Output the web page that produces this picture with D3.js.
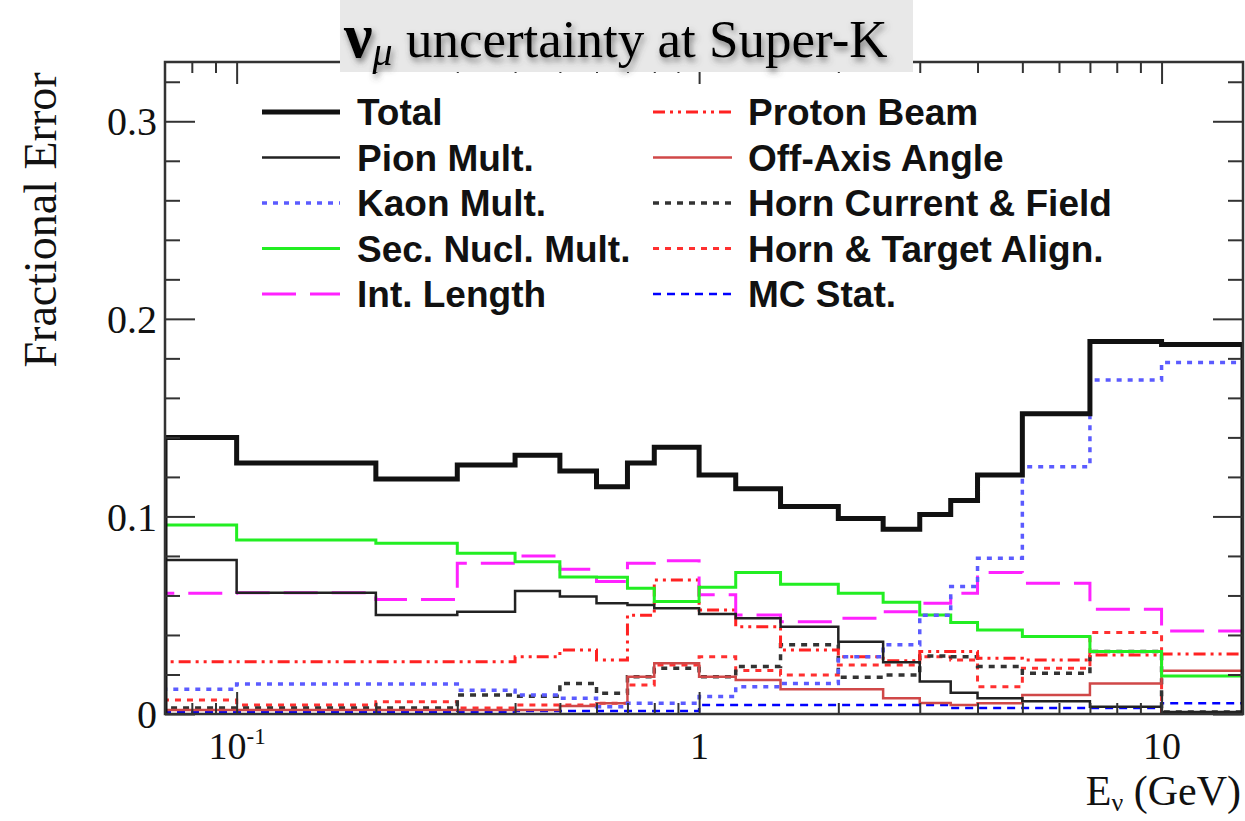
<!DOCTYPE html>
<html>
<head>
<meta charset="utf-8">
<script src="https://cdn.jsdelivr.net/npm/d3@7"></script>
<style>
  html, body { margin: 0; padding: 0; background: #ffffff; }
  svg { display: block; }
</style>
</head>
<body>
<svg id="chart" width="1245" height="821"></svg>
<script>
// Energy bin edges (GeV); the first bin starts at 0 and is clipped at the axis minimum
const binEdges = [0, 0.1, 0.2, 0.3, 0.4, 0.5, 0.6, 0.7, 0.8, 1.0, 1.2, 1.5, 2.0, 2.5, 3.0, 3.5, 4.0, 5.0, 7.0, 10.0, 30.0];

// Fractional error per bin for each source
const totalErr      = [0.140, 0.127, 0.119, 0.126, 0.131, 0.123, 0.115, 0.127, 0.135, 0.121, 0.114, 0.105, 0.099, 0.0935, 0.101, 0.108, 0.121, 0.152, 0.1885, 0.187];
const pionMult      = [0.078, 0.0614, 0.0501, 0.0518, 0.0623, 0.0595, 0.056, 0.0552, 0.0535, 0.0506, 0.0484, 0.0442, 0.0366, 0.0262, 0.0164, 0.0108, 0.008, 0.0065, 0.0037, 0.001];
const kaonMult      = [0.0125, 0.0152, 0.0152, 0.012, 0.0096, 0.008, 0.0037, 0.0055, 0.0055, 0.0088, 0.0138, 0.0155, 0.029, 0.035, 0.050, 0.0645, 0.0788, 0.1252, 0.169, 0.1779];
const secNuclMult   = [0.0957, 0.0881, 0.0864, 0.0814, 0.0771, 0.0693, 0.0692, 0.0636, 0.0569, 0.0641, 0.0716, 0.0657, 0.0611, 0.0566, 0.0501, 0.0463, 0.0425, 0.0392, 0.0316, 0.0192];
const intLength     = [0.0611, 0.0614, 0.058, 0.0763, 0.080, 0.0733, 0.067, 0.0763, 0.0776, 0.0603, 0.0501, 0.0467, 0.0484, 0.0518, 0.056, 0.0611, 0.0716, 0.0662, 0.053, 0.042];
const protonBeam    = [0.0265, 0.0265, 0.0265, 0.0265, 0.029, 0.0324, 0.0273, 0.050, 0.0678, 0.0527, 0.0442, 0.0324, 0.029, 0.027, 0.0316, 0.0316, 0.0282, 0.0273, 0.0299, 0.0304];
const offAxisAngle  = [0.002, 0.002, 0.002, 0.002, 0.002, 0.004, 0.0055, 0.0189, 0.0257, 0.0189, 0.0172, 0.0125, 0.0125, 0.008, 0.0056, 0.0046, 0.0054, 0.0096, 0.0155, 0.0219];
const hornCurrent   = [0.003, 0.003, 0.003, 0.0096, 0.009, 0.0155, 0.0105, 0.0189, 0.0231, 0.0189, 0.024, 0.035, 0.0186, 0.0197, 0.0294, 0.029, 0.024, 0.0206, 0.0316, 0.001];
const hornTarget    = [0.0071, 0.0046, 0.0062, 0.003, 0.0046, 0.0046, 0.0055, 0.0147, 0.0248, 0.029, 0.022, 0.0197, 0.0248, 0.0248, 0.029, 0.0273, 0.0138, 0.0231, 0.0412, 0.0005];
const mcStat        = [0.001, 0.001, 0.001, 0.0012, 0.0015, 0.0015, 0.0015, 0.0015, 0.0015, 0.0045, 0.0045, 0.0045, 0.0045, 0.0045, 0.0045, 0.003, 0.003, 0.003, 0.003, 0.0055];

// Legend labels (left column, then right column)
const legendLeft  = ["Total", "Pion Mult.", "Kaon Mult.", "Sec. Nucl. Mult.", "Int. Length"];
const legendRight = ["Proton Beam", "Off-Axis Angle", "Horn Current & Field", "Horn & Target Align.", "MC Stat."];

// Axis ticks
const xMajorTicks = [0.1, 1, 10];
const xMajorBase  = ["10", "1", "10"];
const xMajorExp   = ["-1", "", ""];
const xMinorTicks = [0.08, 0.09, 0.2, 0.3, 0.4, 0.5, 0.6, 0.7, 0.8, 0.9, 2, 3, 4, 5, 6, 7, 8, 9];
const yMajorTicks = [0, 0.1, 0.2, 0.3];
const yMajorLabels = ["0", "0.1", "0.2", "0.3"];
const yMinorTicks = [0.02, 0.04, 0.06, 0.08, 0.12, 0.14, 0.16, 0.18, 0.22, 0.24, 0.26, 0.28, 0.32];

// Line styles, keyed by legend label
const styles = {
  "Total":                { data: totalErr,     color: "#111111", width: 5,   dash: null },
  "Pion Mult.":           { data: pionMult,     color: "#222222", width: 2.5, dash: null },
  "Kaon Mult.":           { data: kaonMult,     color: "#5b5bff", width: 3.5, dash: "5,6" },
  "Sec. Nucl. Mult.":     { data: secNuclMult,  color: "#22ee22", width: 3,   dash: null },
  "Int. Length":          { data: intLength,    color: "#ff22ff", width: 3,   dash: "34,14" },
  "Proton Beam":          { data: protonBeam,   color: "#ff2222", width: 3,   dash: "12,5,3,5,3,5" },
  "Off-Axis Angle":       { data: offAxisAngle, color: "#d04848", width: 2.5, dash: null },
  "Horn Current & Field": { data: hornCurrent,  color: "#333333", width: 3.5, dash: "6,6" },
  "Horn & Target Align.": { data: hornTarget,   color: "#ff3030", width: 3,   dash: "6,6" },
  "MC Stat.":             { data: mcStat,       color: "#0000ff", width: 2.5, dash: "8,6" }
};
const drawOrder = ["MC Stat.", "Horn & Target Align.", "Horn Current & Field", "Off-Axis Angle", "Proton Beam",
                   "Int. Length", "Sec. Nucl. Mult.", "Kaon Mult.", "Pion Mult.", "Total"];

const svg = d3.select("#chart");
const frame = { left: 165, right: 1243, top: 62, bottom: 714 };

const x = d3.scaleLog().domain([0.07, 15]).range([frame.left, frame.right]).clamp(true);
const y = d3.scaleLinear().domain([0, 0.33]).range([frame.bottom, frame.top]);

svg.append("rect").attr("width", 1245).attr("height", 821).attr("fill", "#ffffff");

svg.append("defs").append("clipPath").attr("id", "plotClip")
  .append("rect")
  .attr("x", frame.left).attr("y", frame.top)
  .attr("width", frame.right - frame.left).attr("height", frame.bottom - frame.top);

// Histogram outline: step path that starts and ends on the zero line
function histPath(values) {
  const pts = [[x(Math.max(binEdges[0], x.domain()[0])), y(0)]];
  values.forEach((v, i) => {
    const x0 = x(Math.max(binEdges[i], x.domain()[0]));
    const x1 = x(Math.min(binEdges[i + 1], x.domain()[1]));
    pts.push([x0, y(v)], [x1, y(v)]);
  });
  pts.push([x(Math.min(binEdges[binEdges.length - 1], x.domain()[1])), y(0)]);
  return d3.line()(pts);
}

const gHist = svg.append("g").attr("clip-path", "url(#plotClip)");
drawOrder.forEach(name => {
  const s = styles[name];
  gHist.append("path")
    .attr("d", histPath(s.data))
    .attr("fill", "none")
    .attr("stroke", s.color)
    .attr("stroke-width", s.width)
    .attr("stroke-dasharray", s.dash)
    .attr("stroke-linejoin", "miter");
});

// Axes with inward ticks on all four sides
function styleAxis(g) {
  g.select(".domain").remove();
  g.selectAll("line").attr("stroke", "#333").attr("stroke-width", 2);
}
svg.append("g").attr("transform", `translate(0,${frame.bottom})`)
  .call(d3.axisBottom(x).tickValues(xMinorTicks).tickSize(-11).tickFormat(""))
  .call(styleAxis);
const xMajorAxis = svg.append("g").attr("transform", `translate(0,${frame.bottom})`)
  .call(d3.axisBottom(x).tickValues(xMajorTicks).tickSize(-22).tickFormat(""))
  .call(styleAxis);
svg.append("g").attr("transform", `translate(0,${frame.top})`)
  .call(d3.axisTop(x).tickValues(xMinorTicks).tickSize(-11).tickFormat(""))
  .call(styleAxis);
svg.append("g").attr("transform", `translate(0,${frame.top})`)
  .call(d3.axisTop(x).tickValues(xMajorTicks).tickSize(-22).tickFormat(""))
  .call(styleAxis);
svg.append("g").attr("transform", `translate(${frame.left},0)`)
  .call(d3.axisLeft(y).tickValues(yMinorTicks).tickSize(-15).tickFormat(""))
  .call(styleAxis);
const yMajorAxis = svg.append("g").attr("transform", `translate(${frame.left},0)`)
  .call(d3.axisLeft(y).tickValues(yMajorTicks).tickSize(-30).tickPadding(8)
        .tickFormat((d, i) => yMajorLabels[i]))
  .call(styleAxis);
svg.append("g").attr("transform", `translate(${frame.right},0)`)
  .call(d3.axisRight(y).tickValues(yMinorTicks).tickSize(-15).tickFormat(""))
  .call(styleAxis);
svg.append("g").attr("transform", `translate(${frame.right},0)`)
  .call(d3.axisRight(y).tickValues(yMajorTicks).tickSize(-30).tickFormat(""))
  .call(styleAxis);

yMajorAxis.selectAll("text")
  .attr("font-family", "'Liberation Serif', 'Times New Roman', serif")
  .attr("font-size", 40)
  .attr("fill", "#111")
  .attr("dy", "0.34em");

// x major labels with exponent superscripts
xMajorAxis.selectAll(".tick").each(function (d, i) {
  const t = d3.select(this).append("text")
    .attr("y", 45)
    .attr("text-anchor", "middle")
    .attr("font-family", "'Liberation Serif', 'Times New Roman', serif")
    .attr("font-size", 38)
    .attr("fill", "#111");
  t.append("tspan").text(xMajorBase[i]);
  if (xMajorExp[i]) {
    t.append("tspan").attr("font-size", 23).attr("dy", -15).text(xMajorExp[i]);
  }
});

// Frame
svg.append("rect")
  .attr("x", frame.left).attr("y", frame.top)
  .attr("width", frame.right - frame.left).attr("height", frame.bottom - frame.top)
  .attr("fill", "none").attr("stroke", "#333").attr("stroke-width", 2.5);

// Axis titles
svg.append("text")
  .attr("transform", "translate(56,220) rotate(-90)")
  .attr("text-anchor", "middle")
  .attr("font-family", "'Liberation Serif', 'Times New Roman', serif")
  .attr("font-size", 46)
  .attr("fill", "#111")
  .text("Fractional Error");

const xTitle = svg.append("text")
  .attr("x", 1241).attr("y", 805)
  .attr("text-anchor", "end")
  .attr("font-family", "'Liberation Serif', 'Times New Roman', serif")
  .attr("font-size", 42)
  .attr("fill", "#111");
xTitle.append("tspan").text("E");
xTitle.append("tspan").attr("font-size", 26).attr("dy", 6).text("ν");
xTitle.append("tspan").attr("dy", -6).text(" (GeV)");

// Legend
const legendFont = "'Liberation Sans', Arial, Helvetica, sans-serif";
function drawLegend(labels, x0, x1, xText) {
  labels.forEach((name, i) => {
    const s = styles[name];
    const cy = 112 + i * 45.5;
    svg.append("line")
      .attr("x1", x0).attr("x2", x1).attr("y1", cy).attr("y2", cy)
      .attr("stroke", s.color).attr("stroke-width", s.width)
      .attr("stroke-dasharray", s.dash);
    svg.append("text")
      .attr("x", xText).attr("y", cy + 13)
      .attr("font-family", legendFont)
      .attr("font-weight", "bold")
      .attr("font-size", 37)
      .attr("fill", "#111")
      .text(name);
  });
}
drawLegend(legendLeft, 262, 340, 357);
drawLegend(legendRight, 653, 732, 748);

// Title banner
const defs = svg.select("defs");
const shadow = defs.append("filter").attr("id", "titleShadow")
  .attr("x", "-10%").attr("y", "-30%").attr("width", "120%").attr("height", "170%");
shadow.append("feDropShadow")
  .attr("dx", 2).attr("dy", 4).attr("stdDeviation", 3)
  .attr("flood-color", "#444").attr("flood-opacity", 0.7);

svg.append("rect")
  .attr("x", 340).attr("y", 0).attr("width", 573).attr("height", 72)
  .attr("fill", "#e8e8e8");

const title = svg.append("text")
  .attr("x", 344).attr("y", 57)
  .attr("font-family", "'Liberation Serif', 'Times New Roman', serif")
  .attr("fill", "#000")
  .attr("filter", "url(#titleShadow)");
title.append("tspan").attr("font-size", 64).attr("font-weight", "bold").text("ν");
title.append("tspan").attr("font-size", 40).attr("font-style", "italic").attr("dy", 8).text("μ");
title.append("tspan").attr("font-size", 53).attr("dy", -8).text(" uncertainty at Super-K");
</script>
</body>
</html>
